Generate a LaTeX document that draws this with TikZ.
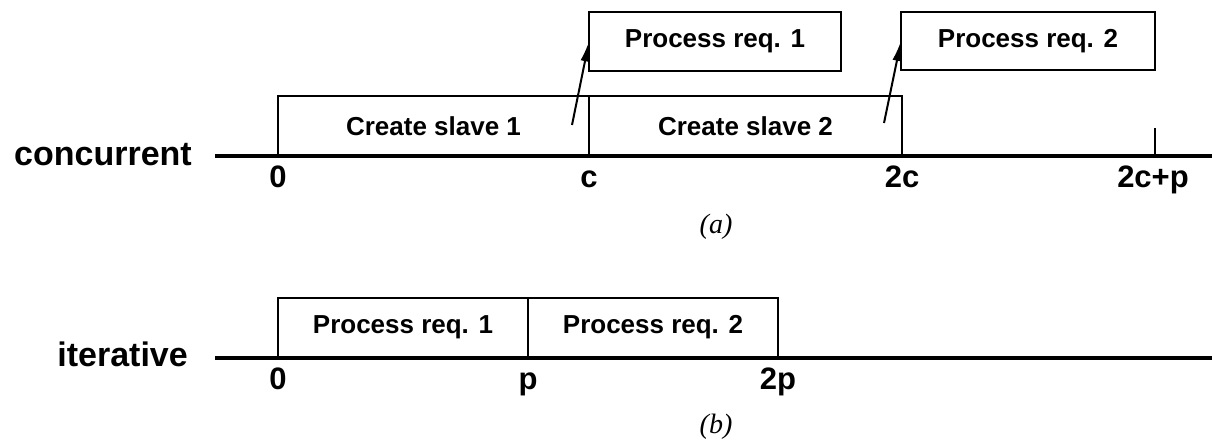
\documentclass[tikz,border=0pt]{standalone}
\usepackage{fontspec}
\setmainfont{Liberation Sans}
\newfontfamily\capfont{Liberation Serif}
\usetikzlibrary{arrows.meta}
\begin{document}
\begin{tikzpicture}[x=1pt,y=-1pt,
  box/.style={draw, line width=2.2pt, inner sep=0pt, outer sep=0pt,
    font=\bfseries\fontsize{26}{26}\selectfont},
  axisline/.style={line width=4.5pt},
  ticklabel/.style={font=\bfseries\fontsize{31}{31}\selectfont, anchor=base, inner sep=0pt},
  rowlabel/.style={font=\bfseries\fontsize{34}{34}\selectfont, anchor=base east, inner sep=0pt},
  caplabel/.style={font=\capfont\itshape\fontsize{28}{28}\selectfont, inner sep=0pt},
  arr/.style={line width=2pt, -{Latex[length=20pt,width=9pt]}},
  smalltick/.style={line width=1.6pt}]
\useasboundingbox (0,0) rectangle (1212,441);

% ---- (a) concurrent ----
\node[rowlabel] (conc) at (192,165) {concurrent};
\node[box, minimum width=311pt, minimum height=60pt] (cs1) at (433.5,126) {Create slave 1};
\node[box, minimum width=313pt, minimum height=60pt] (cs2) at (745.5,126) {Create slave 2};
\node[box, minimum width=252pt, minimum height=59pt] (pr1) at (715,41.5) {Process req. 1};
\node[box, minimum width=254pt, minimum height=58pt] (pr2) at (1028,41) {Process req. 2};
\coordinate (ca0) at (215,156);
\coordinate (ca1) at (1212,156);
\draw[axisline] (ca0) -- (ca1);
\coordinate (tk0) at (1155,128);
\coordinate (tk1) at (1155,156);
\draw[smalltick] (tk0) -- (tk1);
\coordinate (a1s) at (572,125);
\coordinate (a2s) at (884,123);
\draw[arr] (a1s) -- (pr1.west);
\draw[arr] (a2s) -- (pr2.west);
\node[ticklabel] (l0) at (278,187) {0};
\node[ticklabel] (lc) at (589,187) {c};
\node[ticklabel] (l2c) at (902,187) {2c};
\node[ticklabel] (l2cp) at (1153,187) {2c+p};
\node[caplabel] (capa) at (716,227) {(a)};

% ---- (b) iterative ----
\node[rowlabel] (iter) at (188,366) {iterative};
\node[box, minimum width=250pt, minimum height=59pt] (ip1) at (403,327.5) {Process req. 1};
\node[box, minimum width=250pt, minimum height=59pt] (ip2) at (653,327.5) {Process req. 2};
\coordinate (ia0) at (215,358);
\coordinate (ia1) at (1212,358);
\draw[axisline] (ia0) -- (ia1);
\node[ticklabel] (m0) at (278,389) {0};
\node[ticklabel] (mp) at (528,389) {p};
\node[ticklabel] (m2p) at (778,389) {2p};
\node[caplabel] (capb) at (716,427) {(b)};
\end{tikzpicture}
\end{document}
